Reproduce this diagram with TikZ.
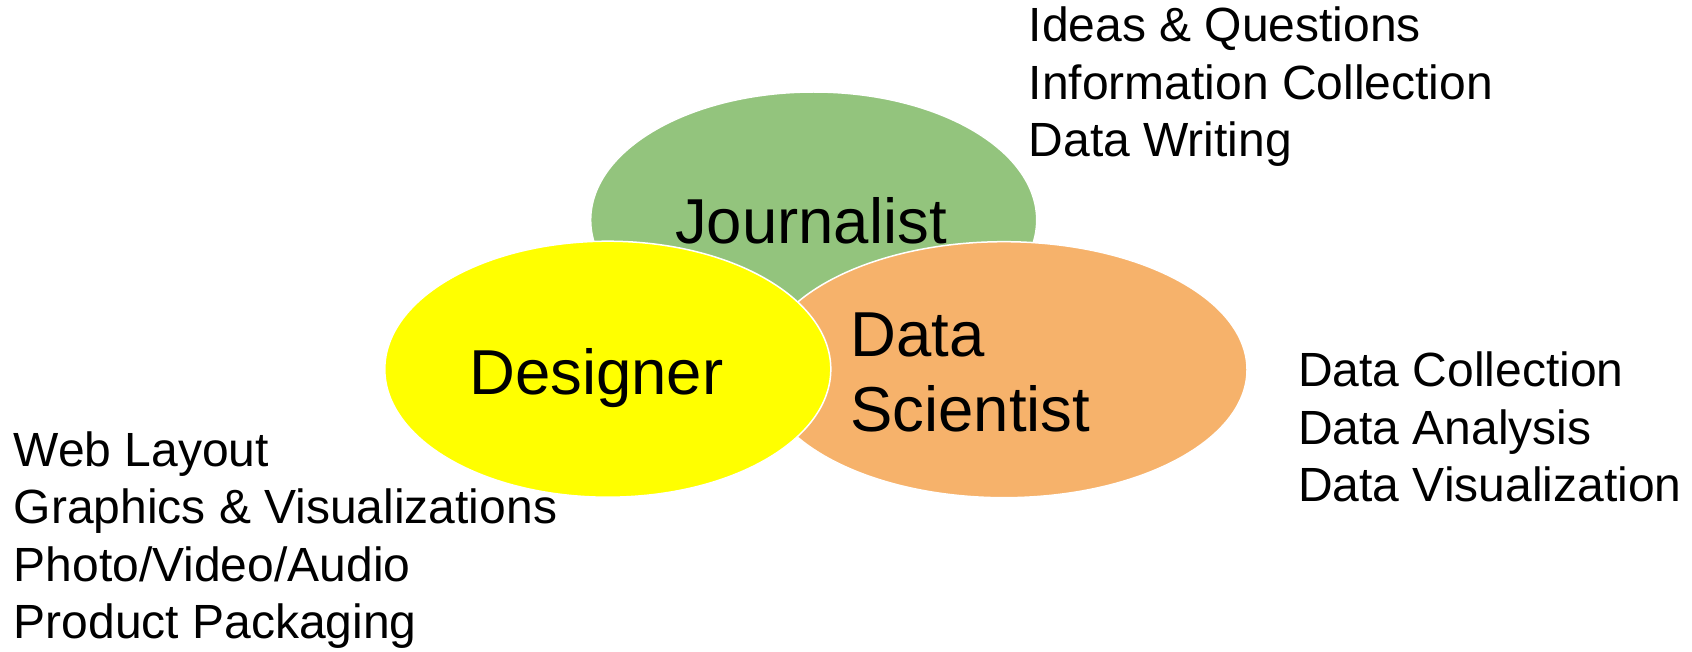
\documentclass[tikz,border=0pt]{standalone}
\usepackage{fontspec}
\setmainfont{Liberation Sans}
\usetikzlibrary{shapes.geometric}
\definecolor{jgreen}{HTML}{93C47D}
\definecolor{dorange}{HTML}{F6B26B}
\definecolor{dyellow}{HTML}{FFFF00}
\begin{document}
\begin{tikzpicture}[x=1pt,y=-1pt,
  blob/.style={ellipse, draw=white, line width=1.5pt, inner sep=0pt, minimum width=446pt, minimum height=256pt},
  big/.style={font=\fontsize{63.5}{75}\selectfont, inner sep=0pt},
  listtext/.style={font=\fontsize{48}{57.6}\selectfont, align=left, inner sep=0pt, anchor=base west}]
\useasboundingbox (0,0) rectangle (1692,652);
\node[blob, fill=jgreen] (jour) at (813.7,220) {};
\node[blob, fill=dorange, minimum width=486pt] (sci) at (1004,369.7) {};
\node[blob, fill=dyellow] (des) at (607.8,369.2) {};
\node[big, anchor=base] (jourlbl) at (811,243.3) {Journalist};
\node[big, anchor=base] (deslbl) at (596.3,394) {Designer};
% base anchor of a multi-line node = baseline of its last line
\node[big, anchor=base west, align=left] (scilbl) at (850,431) {Data\\Scientist};
\node[listtext] (jourlist) at (1028.5,156.9) {Ideas \& Questions\\Information Collection\\Data Writing};
\node[listtext] (scilist) at (1298,501.7) {Data Collection\\Data Analysis\\Data Visualization};
\node[listtext] (deslist) at (13.5,638.8) {Web Layout\\Graphics \& Visualizations\\Photo/Video/Audio\\Product Packaging};
\end{tikzpicture}
\end{document}
